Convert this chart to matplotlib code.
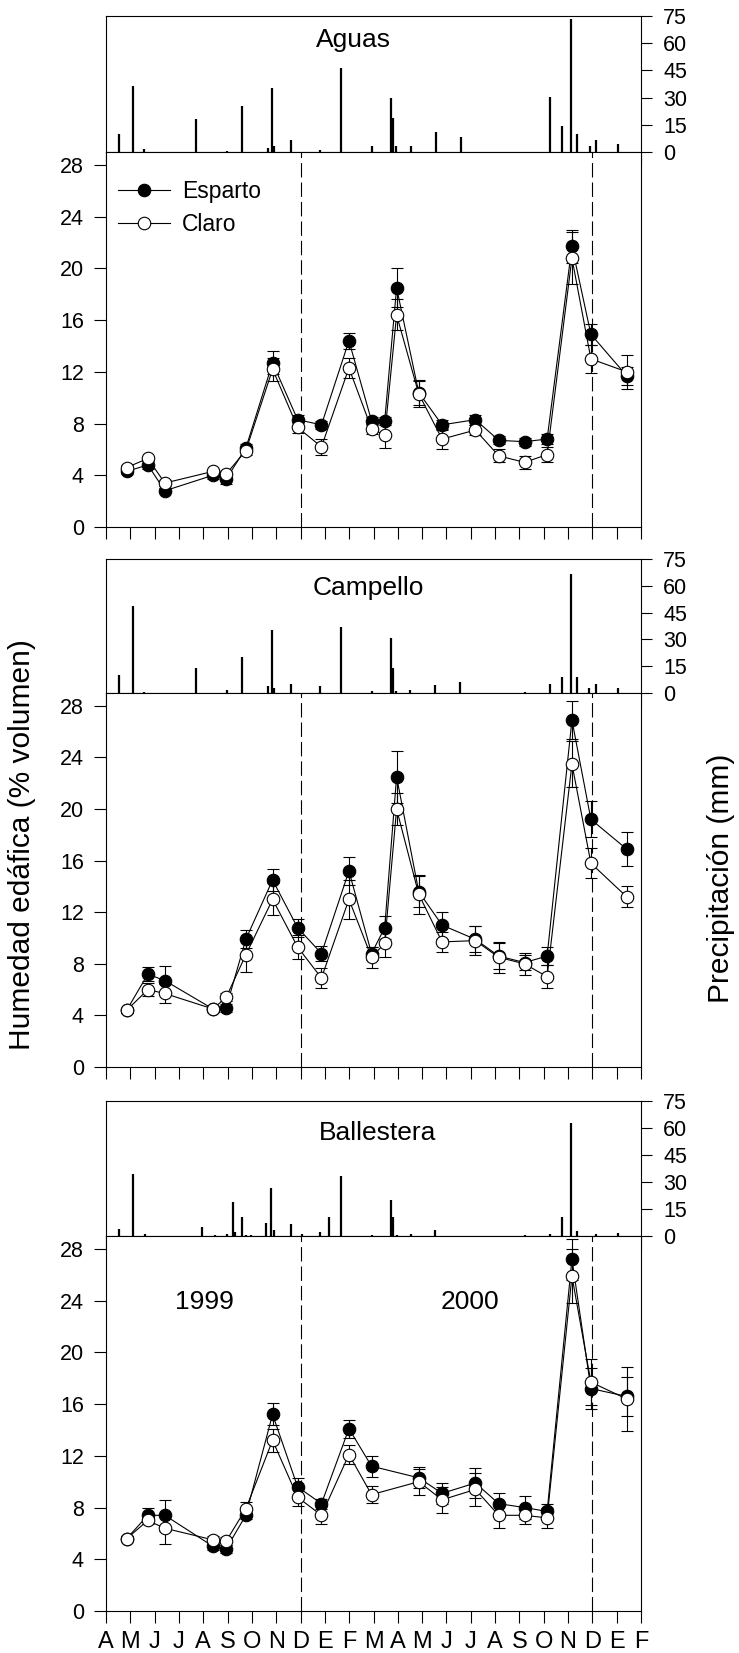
import matplotlib
matplotlib.use('Agg')
import matplotlib.pyplot as plt
from matplotlib.lines import Line2D

plt.rcParams['font.family'] = ['Liberation Sans', 'DejaVu Sans']

# month ticks, April 1999 .. February 2001
meses = ['A', 'M', 'J', 'J', 'A', 'S', 'O', 'N', 'D', 'E', 'F',
         'M', 'A', 'M', 'J', 'J', 'A', 'S', 'O', 'N', 'D', 'E', 'F']

# sampling dates as months since 1 April 1999
fechas = [0.85, 1.72, 2.42, 4.40, 4.94, 5.75, 6.85, 7.88, 8.86, 9.99, 10.92,
          11.46, 11.95, 12.86, 13.82, 15.19, 16.15, 17.21, 18.14, 19.16, 19.94, 21.41]
fechas_bal = [0.85, 1.72, 2.42, 4.40, 4.94, 5.75, 6.85, 7.88, 8.86, 9.99, 10.92,
              12.86, 13.82, 15.19, 16.15, 17.21, 18.14, 19.16, 19.94, 21.41]

# --- Aguas ---
ag_esparto = [4.3, 4.8, 2.8, 4.0, 3.7, 6.1, 12.7, 8.3, 7.9, 14.4, 8.2,
              8.2, 18.5, 10.4, 7.9, 8.3, 6.7, 6.6, 6.8, 21.7, 14.9, 11.7]
ag_esparto_err = [0.2, 0.3, 0.2, 0.3, 0.4, 0.3, 0.9, 0.4, 0.3, 0.6, 0.3,
                  0.3, 1.5, 1.0, 0.4, 0.4, 0.3, 0.3, 0.4, 1.3, 0.8, 0.7]
ag_claro = [4.6, 5.3, 3.4, 4.3, 4.1, 5.9, 12.2, 7.7, 6.2, 12.3, 7.6,
            7.1, 16.4, 10.3, 6.8, 7.5, 5.5, 5.0, 5.6, 20.8, 13.0, 12.0]
ag_claro_err = [0.2, 0.2, 0.2, 0.2, 0.2, 0.3, 0.9, 0.4, 0.6, 0.8, 0.4,
                1.0, 1.2, 1.0, 0.8, 0.4, 0.5, 0.5, 0.6, 2.0, 1.1, 1.3]
ag_lluvia_x = [0.53, 1.11, 1.58, 3.71, 4.97, 5.59, 6.66, 6.82, 6.90, 7.62, 8.78, 9.68, 10.95,
               11.70, 11.79, 11.94, 12.53, 13.56, 14.59, 18.26, 18.76, 19.14, 19.36, 19.89,
               20.16, 21.06]
ag_lluvia = [10.1, 36.3, 1.5, 18.2, 0.5, 25.2, 2.2, 35.2, 3.1, 6.8, 1.3, 46.2, 3.1,
             29.6, 18.8, 3.1, 3.5, 11.2, 8.5, 30.2, 14.4, 73.3, 10.1, 3.5, 6.4, 4.6]

# --- Campello ---
cp_esparto = [4.4, 7.2, 6.7, 4.5, 4.6, 9.9, 14.5, 10.8, 8.8, 15.2, 8.8,
              10.8, 22.5, 13.6, 11.0, 9.9, 8.6, 8.1, 8.6, 26.9, 19.2, 16.9]
cp_esparto_err = [0.2, 0.55, 1.1, 0.2, 0.3, 0.7, 0.85, 0.7, 0.6, 1.05, 0.5,
                  0.9, 2.0, 1.2, 1.05, 1.0, 1.0, 0.6, 0.7, 1.5, 1.4, 1.3]
cp_claro = [4.4, 6.0, 5.7, 4.5, 5.4, 8.7, 13.0, 9.3, 6.9, 13.0, 8.5,
            9.6, 20.0, 13.4, 9.7, 9.8, 8.5, 8.0, 7.0, 23.5, 15.8, 13.2]
cp_claro_err = [0.2, 0.5, 0.7, 0.2, 0.3, 1.3, 1.25, 0.9, 0.8, 1.5, 0.8,
                1.1, 1.25, 1.5, 0.75, 1.15, 1.2, 0.85, 0.9, 1.75, 1.15, 0.8]
cp_lluvia_x = [0.53, 1.11, 1.58, 3.71, 4.97, 5.59, 6.66, 6.81, 6.90, 7.62, 8.78, 9.68, 10.95,
               11.71, 11.79, 11.94, 12.51, 13.54, 14.56, 17.23, 18.24, 18.74, 19.14, 19.35,
               19.88, 20.14, 21.05]
cp_lluvia = [9.9, 48.9, 0.6, 14.2, 1.7, 20.3, 4.1, 35.4, 2.8, 5.0, 4.1, 36.9, 0.9,
             30.6, 13.8, 1.3, 1.9, 4.7, 6.2, 0.6, 5.2, 9.0, 66.8, 9.0, 2.8, 5.0, 2.8]

# --- Ballestera ---
bl_esparto = [5.6, 7.4, 7.4, 5.0, 4.8, 7.4, 15.2, 9.6, 8.3, 14.1, 11.2,
              10.3, 9.1, 9.9, 8.3, 8.0, 7.7, 27.2, 17.2, 16.6]
bl_esparto_err = [0.2, 0.55, 1.2, 0.3, 0.3, 0.3, 0.85, 0.65, 0.4, 0.7, 0.8,
                  0.8, 0.8, 1.15, 0.8, 0.9, 0.6, 1.6, 1.6, 1.5]
bl_claro = [5.6, 7.0, 6.4, 5.5, 5.4, 7.9, 13.2, 8.8, 7.4, 12.1, 9.0,
            10.0, 8.6, 9.4, 7.4, 7.4, 7.2, 25.9, 17.7, 16.4]
bl_claro_err = [0.2, 0.3, 1.2, 0.3, 0.3, 0.5, 0.9, 0.7, 0.65, 0.7, 0.65,
                1.0, 1.0, 1.3, 1.0, 0.65, 0.75, 2.1, 1.8, 2.5]
bl_lluvia_x = [0.53, 1.11, 1.59, 3.95, 4.47, 4.97, 5.23, 5.32, 5.59, 5.75, 5.97, 6.57,
               6.78, 6.90, 7.62, 8.05, 8.78, 9.15, 9.68, 10.95, 11.70, 11.79, 11.95, 12.53,
               13.54, 17.23, 18.24, 18.74, 19.13, 19.35, 20.14, 21.06]
bl_lluvia = [3.9, 34.6, 0.9, 4.8, 0.4, 1.1, 18.9, 2.2, 10.7, 0.6, 0.6, 7.0,
             26.6, 3.3, 6.8, 0.9, 2.0, 10.5, 33.3, 0.6, 19.8, 10.7, 0.6, 0.9,
             3.3, 0.6, 0.9, 10.7, 63.0, 3.0, 1.1, 1.5]

W, H = 739, 1653
fig = plt.figure(figsize=(W / 100, H / 100), dpi=100)

FS = 15.5
LW = 0.8
left = 106 / W
width = 535 / W


def panel(top, mid, bot, nombre, nombre_x, nombre_y, lx, lh, x, esp, esp_e, cla, cla_e, last):
    # rainfall panel
    axb = fig.add_axes([left, 1 - mid / H, width, (mid - top) / H])
    axb.vlines(lx, 0, lh, color='k', lw=1.6)
    axb.set_xlim(0, 22)
    axb.set_ylim(0, 75)
    axb.set_xticks(range(23))
    axb.tick_params(axis='x', direction='out', length=9, width=LW, labelbottom=False)
    axb.yaxis.tick_right()
    axb.set_yticks([0, 15, 30, 45, 60, 75])
    axb.tick_params(axis='y', direction='out', length=8, width=LW, labelsize=FS, pad=8)
    for s in axb.spines.values():
        s.set_linewidth(LW)
    axb.text(nombre_x, nombre_y, nombre, transform=axb.transAxes, fontsize=19,
             ha='center', va='baseline')

    # soil moisture panel
    ax = fig.add_axes([left, 1 - bot / H, width, (bot - mid) / H])
    ax.errorbar(x, esp, yerr=esp_e, fmt='-o', color='k', mfc='k', mec='k', ms=9,
                lw=LW, elinewidth=LW, capsize=4.5, capthick=LW, mew=0.8, zorder=2)
    ax.errorbar(x, cla, yerr=cla_e, fmt='-o', color='k', mfc='w', mec='k', ms=9,
                lw=LW, elinewidth=LW, capsize=4.5, capthick=LW, mew=0.8, zorder=3)
    for xd in (8, 20):
        ax.axvline(xd, color='k', lw=LW, dashes=(13, 4.5), zorder=1)
    ax.set_xlim(0, 22)
    ax.set_ylim(0, 29)
    ax.set_yticks(range(0, 29, 4))
    ax.set_xticks(range(23))
    ax.set_xticklabels(meses)
    ax.tick_params(axis='both', direction='out', length=8.5, width=LW, labelsize=FS, pad=7.5)
    ax.tick_params(axis='x', labelbottom=last, labelsize=17, pad=6)
    for s in ax.spines.values():
        s.set_linewidth(LW)
    return ax


ax1 = panel(16, 152, 527, 'Aguas', 0.463, 0.774, ag_lluvia_x, ag_lluvia,
            fechas, ag_esparto, ag_esparto_err, ag_claro, ag_claro_err, False)
handles = [Line2D([], [], color='k', lw=LW, marker='o', ms=9, mfc='k', mec='k', mew=0.8),
           Line2D([], [], color='k', lw=LW, marker='o', ms=9, mfc='w', mec='k', mew=0.8)]
ax1.legend(handles, ['Esparto', 'Claro'], loc='upper left', bbox_to_anchor=(0.022, 0.925),
           frameon=False, fontsize=16.5, borderpad=0, borderaxespad=0, handlelength=2.3,
           handletextpad=0.5, labelspacing=0.45, numpoints=1)

panel(559, 693, 1067, 'Campello', 0.49, 0.731, cp_lluvia_x, cp_lluvia,
      fechas, cp_esparto, cp_esparto_err, cp_claro, cp_claro_err, False)

ax3 = panel(1101, 1236, 1611, 'Ballestera', 0.508, 0.711, bl_lluvia_x, bl_lluvia,
            fechas_bal, bl_esparto, bl_esparto_err, bl_claro, bl_claro_err, True)
ax3.text(4.03, 23.35, '1999', fontsize=19, ha='center', va='baseline')
ax3.text(14.97, 23.35, '2000', fontsize=19, ha='center', va='baseline')

fig.text(22 / W, 1 - 845 / H, 'Humedad edáfica (% volumen)', rotation=90,
         fontsize=21.5, ha='center', va='center')
fig.text(721 / W, 1 - 878 / H, 'Precipitación (mm)', rotation=90,
         fontsize=21.5, ha='center', va='center')

fig.savefig('out.png', dpi=100)
